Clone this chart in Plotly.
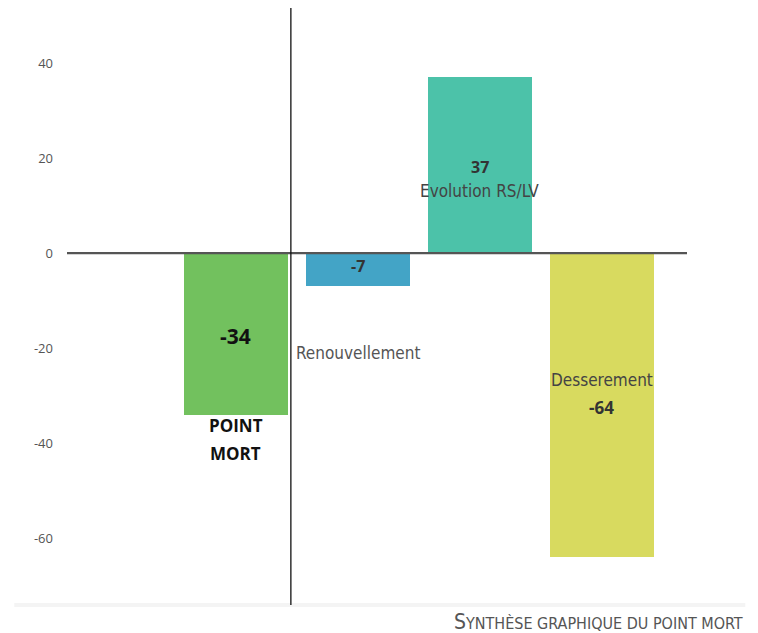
import plotly.graph_objects as go

categories = ["Point mort", "Renouvellement", "Evolution RS/LV", "Desserement"]
values = [-34, -7, 37, -64]
colors = ["#72c15e", "#43a4c6", "#4cc2a9", "#d8da5f"]
y_ticks = [40, 20, 0, -20, -40, -60]

x_pos = list(range(len(categories)))

fig = go.Figure()
fig.add_trace(go.Bar(
    x=x_pos, y=values, width=0.85,
    marker=dict(color=colors, line=dict(width=0)),
    showlegend=False, hoverinfo="skip",
))

# faint band under the plot
fig.add_shape(type="rect", xref="paper", yref="paper", x0=-0.085, x1=1.094,
              y0=-(607 - 605) / 597, y1=(605 - 603) / 597,
              line=dict(width=0), fillcolor="#f4f4f4", layer="below")
# zero line and vertical separator
fig.add_shape(type="line", xref="paper", yref="y", x0=0, x1=1, y0=0, y1=0,
              line=dict(color="#555555", width=2.2))
fig.add_shape(type="line", xref="x", yref="paper", x0=0.45, x1=0.45, y0=0, y1=1,
              line=dict(color="#111111", width=1.3))

cond = "Liberation Sans Narrow, DejaVu Sans Condensed, Arial Narrow, sans-serif"
bold = "Open Sans, Noto Sans, sans-serif"

def ann(x, y, text, size, color, family, weight="normal"):
    fig.add_annotation(x=x, y=y, xref="x", yref="y", text=text, showarrow=False,
                       font=dict(size=size, color=color, family=family, weight=weight),
                       xanchor="center", yanchor="middle")

ann(0, -17.5, str(values[0]), 21, "#111111", bold, "bold")
ann(0, -36.2, "POINT", 17, "#111111", bold, "bold")
ann(0, -42.1, "MORT", 17, "#111111", bold, "bold")
ann(1, -21.1, "Renouvellement", 17, "#555555", cond)
ann(1, -2.7, str(values[1]), 16, "#333333", bold, "bold")
ann(2, 18.1, str(values[2]), 16, "#333333", bold, "bold")
ann(2, 13.1, "Evolution RS/LV", 17, "#444444", cond)
ann(3, -26.7, "Desserement", 17, "#444444", cond)
ann(3, -32.6, str(values[3]), 17, "#333333", bold, "bold")

fig.add_annotation(
    x=(745 - 67) / 620, y=-(622 - 605) / 597, xref="paper", yref="paper", showarrow=False,
    text='<span style="font-size:21px">S</span>YNTHÈSE GRAPHIQUE DU POINT MORT',
    font=dict(size=16, color="#555555", family=cond),
    xanchor="right", yanchor="middle",
)

fig.update_layout(
    width=758, height=633,
    margin=dict(l=67, r=71, t=8, b=28),
    paper_bgcolor="white", plot_bgcolor="white",
    xaxis=dict(range=[-1.385, 3.697], showticklabels=False, showgrid=False,
               zeroline=False, showline=False, ticks=""),
    yaxis=dict(range=[-74.1, 51.6], tickvals=y_ticks, ticktext=[str(v) for v in y_ticks],
               showgrid=False, zeroline=False, showline=False, ticks="",
               ticklabelstandoff=13,
               tickfont=dict(size=13, color="#555555", family="Open Sans, sans-serif")),
    bargap=0,
)

fig.write_html("out.html", config={"displayModeBar": False},
               post_script="document.body.style.margin='0';document.body.style.overflow='hidden';")
